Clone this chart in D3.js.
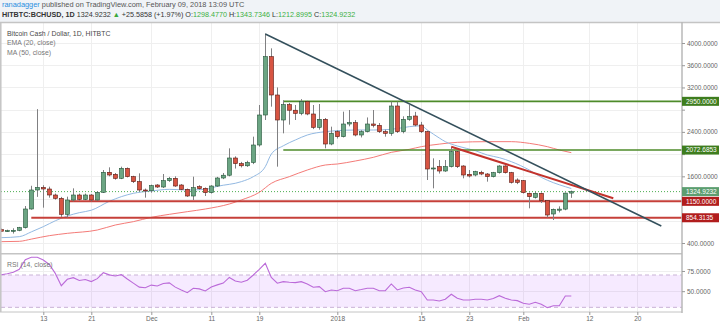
<!DOCTYPE html>
<html>
<head>
<meta charset="utf-8">
<script src="https://cdn.jsdelivr.net/npm/d3@7"></script>
<style>
body {margin:0; background:#fff;}
svg {display:block; font-family:"Liberation Sans", Arial, sans-serif;}
</style>
</head>
<body>
<script>
// daily candles, first one on Nov 6 2017
var firstDay = "2017-11-06";

var opens = [640,612,622,628,676,1012,1354,1400,1372,1264,
  1204,916,1174,1264,1186,1264,1174,1312,1672,1636,
  1564,1744,1594,1504,1354,1340,1444,1408,1522,1564,
  1444,1366,1246,1414,1384,1306,1426,1570,1620,1930,
  1830,1790,1850,2164,2704,3754,3064,2614,2890,2790,
  2734,2944,2722,2482,2626,2182,2404,2314,2542,2566,
  2344,2404,2542,2518,2404,2374,2866,2404,2626,2686,
  2524,2404,1732,1774,1696,1774,2044,1786,1636,1624,
  1672,1642,1594,1666,1786,1666,1534,1522,1294,1222,
  1294,1162,922,990,1010,1298.4770];

var highs = [660,640,665,690,1066,1430,2810,1440,1414,1290,
  1230,1234,1384,1290,1290,1280,1330,1714,1762,1660,
  1774,1760,1610,1654,1380,1450,1460,1642,1590,1600,
  1460,1380,1594,1440,1400,1440,1590,1660,2104,1960,
  1860,1880,2314,2884,4170,3904,3200,2970,2920,2884,
  2990,2960,2884,2902,2650,2494,2430,2764,2794,2614,
  2430,2660,2794,2560,2440,2944,2944,2680,2884,2760,
  2580,2420,1924,1894,1894,2134,2060,1800,1714,1700,
  1700,1660,1680,1800,1800,1680,1564,1534,1310,1320,
  1310,1174,1020,1060,1310,1343.7346];

var lows = [600,598,570,612,660,1000,1230,1036,1216,1180,
  870,860,1150,1160,1170,1150,1160,1300,1600,1540,
  1550,1580,1480,1324,1216,1306,1390,1390,1500,1410,
  1350,1230,1174,1360,1246,1290,1410,1550,1600,1740,
  1760,1770,1820,2134,2614,2854,1774,2374,2530,2614,
  2700,2700,2450,2440,2104,2160,2280,2300,2500,2320,
  2300,2390,2480,2380,2314,2330,2380,2374,2600,2500,
  2380,1534,1384,1650,1680,1760,1750,1564,1580,1600,
  1620,1504,1580,1650,1650,1470,1460,1290,1024,1200,
  1120,860,814,950,990,1212.8995];

var closes = [612,622,628,676,1012,1354,1400,1372,1264,1204,
  916,1174,1264,1186,1264,1174,1312,1672,1624,1564,
  1744,1594,1504,1354,1340,1432,1408,1522,1564,1426,
  1366,1246,1396,1378,1306,1426,1570,1620,1930,1830,
  1790,1850,2164,2704,3754,3064,2614,2890,2790,2734,
  2944,2722,2482,2626,2182,2374,2314,2542,2566,2344,
  2404,2542,2518,2404,2374,2866,2404,2626,2674,2524,
  2404,1732,1750,1696,1774,2044,1774,1624,1606,1684,
  1642,1594,1666,1786,1666,1492,1492,1306,1234,1294,
  1162,904,1006,1010,1298,1324.9232];

var rsiValues = [70.3,71.5,73.5,77,89,92,92,88.6,83,72,
  56.8,64.7,66.7,63.2,64.5,61.9,65.5,72.9,70.2,68.8,
  70.5,65,60,55,54.3,57.5,56.4,59.4,60.3,55,
  51.5,48.2,53.6,52.8,50.3,55.2,57.8,60,67,62.6,
  61,63.6,70,77,84.5,67,59.8,61.8,61,60.6,
  61.8,59,54.8,55.6,49.4,51.5,50.6,53.6,53.6,50.6,
  52,53.6,53.6,50.6,50.6,58.9,51.5,54,54.8,51.5,
  49.4,39.1,39.1,37.9,40,46.2,41.2,39.1,39.1,40,
  40,39.1,41,44.4,41.2,39.1,38.3,35,33.8,36.3,
  33.8,29.6,32,32,44,44];

var emaPoints = [["2017-11-06",496],["2017-11-09",514],["2017-11-11",600],["2017-11-13",694],
  ["2017-11-15",800],["2017-11-17",886],["2017-11-19",946],["2017-11-21",990],["2017-11-24",1150],
  ["2017-11-26",1234],["2017-11-28",1294],["2017-12-01",1336],["2017-12-04",1366],["2017-12-07",1354],
  ["2017-12-10",1366],["2017-12-12",1420],["2017-12-16",1504],["2017-12-18",1594],["2017-12-20",1774],
  ["2017-12-21",2000],["2017-12-23",2150],["2017-12-25",2254],["2017-12-27",2344],["2017-12-30",2404],
  ["2018-01-01",2422],["2018-01-04",2434],["2018-01-07",2434],["2018-01-10",2446],["2018-01-13",2494],
  ["2018-01-15",2510],["2018-01-16",2434],["2018-01-18",2290],["2018-01-19",2224],["2018-01-21",2146],
  ["2018-01-24",2062],["2018-01-26",1984],["2018-01-28",1936],["2018-01-30",1864],["2018-02-02",1714],
  ["2018-02-04",1582],["2018-02-06",1486],["2018-02-08",1414],["2018-02-09",1380]];

var maPoints = [["2017-11-06",424],["2017-11-09",430],["2017-11-11",470],["2017-11-14",532],
  ["2017-11-17",574],["2017-11-22",634],["2017-11-25",724],["2017-11-28",784],["2017-12-01",862],
  ["2017-12-04",916],["2017-12-07",964],["2017-12-10",1012],["2017-12-14",1102],["2017-12-16",1174],
  ["2017-12-19",1312],["2017-12-21",1474],["2017-12-24",1594],["2017-12-27",1714],["2017-12-30",1804],
  ["2018-01-01",1822],["2018-01-04",1876],["2018-01-07",1942],["2018-01-10",2032],["2018-01-13",2086],
  ["2018-01-15",2134],["2018-01-18",2180],["2018-01-21",2212],["2018-01-26",2224],["2018-01-30",2224],
  ["2018-02-02",2194],["2018-02-05",2134],["2018-02-07",2074],["2018-02-09",2026]];

// drawn objects
var greenLevels = [2950, 2072.6853];
var greenLevelStart = "2017-12-23";
var redLevels = [1150, 854.3135];
var redLevelStarts = ["2017-11-17", "2017-11-11"];
var lastPrice = 1324.9232;
var trendDark = [["2017-12-20",4162],["2018-02-24",706]];
var trendRed = [["2018-01-20",2133],["2018-02-16",1205]];

var priceTicks = [400,800,1200,1600,2000,2400,2800,3200,3600,4000];
var rsiTicks = [50,75];
var dateTicks = ["2017-11-13","2017-11-21","2017-12-01","2017-12-11","2017-12-19","2018-01-01",
  "2018-01-15","2018-01-23","2018-02-01","2018-02-12","2018-02-20"];
var dateLabels = ["13","21","Dec","11","19","2018","15","23","Feb","12","20"];

var W = 720, H = 323;
var left = 1, right = 682;
var mainTop = 22, mainBottom = 253, rsiTop = 254, rsiBottom = 312;

var parse = d3.utcParse("%Y-%m-%d");
var start = parse(firstDay);

var x = d3.scaleUtc()
  .domain([start, parse("2018-02-27")])
  .range([1.3, 679.3]);
var y = d3.scaleLinear().domain([220, 4378]).range([mainBottom, mainTop]);
var yr = d3.scaleLinear().domain([24.6, 96]).range([311.7, rsiTop]);

var candles = closes.map(function(c, i) {
  return {d: d3.utcDay.offset(start, i), o: opens[i], h: highs[i], l: lows[i], c: c};
});

var svg = d3.select("body").append("svg")
  .attr("width", W)
  .attr("height", H);

// header
svg.append("rect").attr("width", W).attr("height", mainTop).attr("fill", "#f0f3f7");
var h1 = svg.append("text").attr("x", 2).attr("y", 7).attr("font-size", 7.4).attr("fill", "#555");
h1.append("tspan").attr("fill", "#2a8ee0").text("ranadagger");
h1.append("tspan").text(" published on TradingView.com, February 09, 2018 13:09 UTC");

var h2 = svg.append("text").attr("x", 2).attr("y", 17.3).attr("font-size", 7.2).attr("fill", "#333");
h2.append("tspan").attr("font-weight", "bold").text("HITBTC:BCHUSD, 1D");
h2.append("tspan").text("  1324.9232 ");
h2.append("tspan").attr("fill", "#3aa83a").text("▲");
h2.append("tspan").text(" +25.5858 (+1.97%) O:");
h2.append("tspan").attr("fill", "#3cb043").text("1298.4770");
h2.append("tspan").text(" H:");
h2.append("tspan").attr("fill", "#3cb043").text("1343.7346");
h2.append("tspan").text(" L:");
h2.append("tspan").attr("fill", "#3cb043").text("1212.8995");
h2.append("tspan").text(" C:");
h2.append("tspan").attr("fill", "#3cb043").text("1324.9232");

var defs = svg.append("defs");
defs.append("clipPath").attr("id", "clipMain").append("rect")
  .attr("x", left).attr("y", mainTop).attr("width", right - left).attr("height", mainBottom - mainTop);
defs.append("clipPath").attr("id", "clipRsi").append("rect")
  .attr("x", left).attr("y", rsiTop).attr("width", right - left).attr("height", rsiBottom - rsiTop);

// grid
var grid = svg.append("g");
grid.selectAll(".hg").data(priceTicks).enter().append("line")
  .attr("x1", left).attr("x2", right)
  .attr("y1", function(d) { return Math.round(y(d)) + 0.5; })
  .attr("y2", function(d) { return Math.round(y(d)) + 0.5; })
  .attr("stroke", "#efefef");
grid.selectAll(".rg").data(rsiTicks).enter().append("line")
  .attr("x1", left).attr("x2", right)
  .attr("y1", function(d) { return Math.round(yr(d)) + 0.5; })
  .attr("y2", function(d) { return Math.round(yr(d)) + 0.5; })
  .attr("stroke", "#efefef");
grid.selectAll(".vg").data(dateTicks).enter().append("line")
  .attr("x1", function(d) { return Math.round(x(parse(d))) + 0.5; })
  .attr("x2", function(d) { return Math.round(x(parse(d))) + 0.5; })
  .attr("y1", mainTop).attr("y2", rsiBottom)
  .attr("stroke", "#efefef");

// main pane
var main = svg.append("g").attr("clip-path", "url(#clipMain)");

var line = d3.line()
  .x(function(d) { return x(parse(d[0])); })
  .y(function(d) { return y(d[1]); })
  .curve(d3.curveMonotoneX);

main.append("path").datum(maPoints).attr("d", line)
  .attr("fill", "none").attr("stroke", "#f47b78").attr("stroke-width", 1);
main.append("path").datum(emaPoints).attr("d", line)
  .attr("fill", "none").attr("stroke", "#93b9e2").attr("stroke-width", 1);

// last price dotted line
main.append("line")
  .attr("x1", left).attr("x2", right)
  .attr("y1", y(lastPrice)).attr("y2", y(lastPrice))
  .attr("stroke", "#4caf50").attr("stroke-dasharray", "1,2").attr("stroke-width", 1);

// horizontal levels
main.selectAll(".gl").data(greenLevels).enter().append("line")
  .attr("x1", x(parse(greenLevelStart))).attr("x2", right)
  .attr("y1", function(d) { return y(d); }).attr("y2", function(d) { return y(d); })
  .attr("stroke", "#4e8b2a").attr("stroke-width", 1.6);
main.selectAll(".rl").data(redLevels).enter().append("line")
  .attr("x1", function(d, i) { return x(parse(redLevelStarts[i])); }).attr("x2", right)
  .attr("y1", function(d) { return y(d); }).attr("y2", function(d) { return y(d); })
  .attr("stroke", "#c6403a").attr("stroke-width", 2);

// candles
main.selectAll(".wick").data(candles).enter().append("line")
  .attr("x1", function(d) { return Math.round(x(d.d)) + 0.5; })
  .attr("x2", function(d) { return Math.round(x(d.d)) + 0.5; })
  .attr("y1", function(d) { return y(d.h); })
  .attr("y2", function(d) { return y(d.l); })
  .attr("stroke", "#808082").attr("stroke-width", 1);
main.selectAll(".body").data(candles).enter().append("rect")
  .attr("x", function(d) { return Math.round(x(d.d)) - 1.5; })
  .attr("width", 4)
  .attr("y", function(d) { return y(Math.max(d.o, d.c)); })
  .attr("height", function(d) { return Math.max(1, Math.abs(y(d.o) - y(d.c))); })
  .attr("fill", function(d) { return d.c >= d.o ? "#6ba583" : "#d75442"; })
  .attr("stroke", function(d) { return d.c >= d.o ? "#225437" : "#5b1a13"; })
  .attr("stroke-width", 0.6);

// trend lines
main.append("path").datum(trendRed)
  .attr("d", d3.line().x(function(d) { return x(parse(d[0])); }).y(function(d) { return y(d[1]); }))
  .attr("stroke", "#c3322c").attr("stroke-width", 2).attr("fill", "none");
main.append("path").datum(trendDark)
  .attr("d", d3.line().x(function(d) { return x(parse(d[0])); }).y(function(d) { return y(d[1]); }))
  .attr("stroke", "#34505c").attr("stroke-width", 1.5).attr("fill", "none");

// legend
svg.append("text").attr("x", 7).attr("y", 35.5).attr("font-size", 6.9).attr("fill", "#4a4a4a")
  .text("Bitcoin Cash / Dollar, 1D, HITBTC");
svg.append("text").attr("x", 7).attr("y", 45.3).attr("font-size", 6.9).attr("fill", "#777")
  .text("EMA (20, close)");
svg.append("text").attr("x", 7).attr("y", 55.1).attr("font-size", 6.9).attr("fill", "#777")
  .text("MA (50, close)");

// rsi pane
var rsiG = svg.append("g").attr("clip-path", "url(#clipRsi)");
rsiG.append("rect")
  .attr("x", left).attr("width", right - left)
  .attr("y", yr(70)).attr("height", yr(30) - yr(70))
  .attr("fill", "#9915ff").attr("fill-opacity", 0.09);
rsiG.selectAll(".band").data([70, 30]).enter().append("line")
  .attr("x1", left).attr("x2", right)
  .attr("y1", function(d) { return yr(d); }).attr("y2", function(d) { return yr(d); })
  .attr("stroke", "#c9b3d6").attr("stroke-dasharray", "4,3");
rsiG.append("path").datum(rsiValues)
  .attr("d", d3.line()
    .x(function(d, i) { return x(d3.utcDay.offset(start, i)); })
    .y(function(d) { return yr(d); }))
  .attr("fill", "none").attr("stroke", "#bb6ad9").attr("stroke-width", 1.1);
svg.append("text").attr("x", 7).attr("y", 266.5).attr("font-size", 6.9).attr("fill", "#777")
  .text("RSI (14, close)");

// frame
svg.append("line").attr("x1", 0).attr("x2", W).attr("y1", mainTop + 0.5).attr("y2", mainTop + 0.5)
  .attr("stroke", "#c4c4c4").attr("stroke-width", 1.5);
svg.append("line").attr("x1", 0).attr("x2", right).attr("y1", 253.8).attr("y2", 253.8)
  .attr("stroke", "#c4c4c4").attr("stroke-width", 1.5);
svg.append("line").attr("x1", 0).attr("x2", right).attr("y1", rsiBottom).attr("y2", rsiBottom)
  .attr("stroke", "#c4c4c4").attr("stroke-width", 1);
svg.append("line").attr("x1", 0.8).attr("x2", 0.8).attr("y1", mainTop).attr("y2", rsiBottom)
  .attr("stroke", "#c4c4c4").attr("stroke-width", 1.5);
svg.append("line").attr("x1", right).attr("x2", right).attr("y1", mainTop).attr("y2", rsiBottom + 1)
  .attr("stroke", "#b8b8b8").attr("stroke-width", 1.5);

// price labels on the axis
var tags = [
  {v: greenLevels[0], fill: "#3e7d1e"},
  {v: greenLevels[1], fill: "#3e7d1e"},
  {v: lastPrice, fill: "#5c9e70"},
  {v: redLevels[0], fill: "#b11d1d"},
  {v: redLevels[1], fill: "#b11d1d"}
];

// tick labels hidden under a tag are dropped, as the chart does
function hiddenByTag(v) {
  return tags.some(function(t) { return Math.abs(y(t.v) - y(v)) < 9; });
}

// axes
function styleAxis(g) {
  g.select(".domain").remove();
  g.selectAll(".tick line").attr("stroke", "#999");
  g.selectAll(".tick text").attr("fill", "#666").attr("font-size", 6.5)
    .attr("font-family", "Liberation Sans, Arial, sans-serif");
}
var yAxisG = svg.append("g").attr("transform", "translate(" + right + ",0)")
  .call(d3.axisRight(y).tickValues(priceTicks).tickFormat(d3.format(".4f")).tickSize(3).tickPadding(2))
  .call(styleAxis);
yAxisG.selectAll(".tick text").filter(function(d) { return hiddenByTag(d); }).remove();
svg.append("g").attr("transform", "translate(" + right + ",0)")
  .call(d3.axisRight(yr).tickValues(rsiTicks).tickFormat(d3.format(".4f")).tickSize(3).tickPadding(2))
  .call(styleAxis);
svg.append("g").attr("transform", "translate(0," + rsiBottom + ")")
  .call(d3.axisBottom(x).tickValues(dateTicks.map(parse))
    .tickFormat(function(d, i) { return dateLabels[i]; }).tickSize(3).tickPadding(1))
  .call(styleAxis);

var tag = svg.selectAll(".tag").data(tags).enter().append("g");
tag.append("rect")
  .attr("x", right).attr("width", 37)
  .attr("y", function(d) { return y(d.v) - 4.5; })
  .attr("height", 9)
  .attr("fill", function(d) { return d.fill; });
tag.append("text")
  .attr("x", right + 4)
  .attr("y", function(d) { return y(d.v); })
  .attr("dy", "0.34em")
  .attr("font-size", 6.5)
  .attr("fill", "#fff")
  .text(function(d) { return d3.format(".4f")(d.v); });
</script>
</body>
</html>
